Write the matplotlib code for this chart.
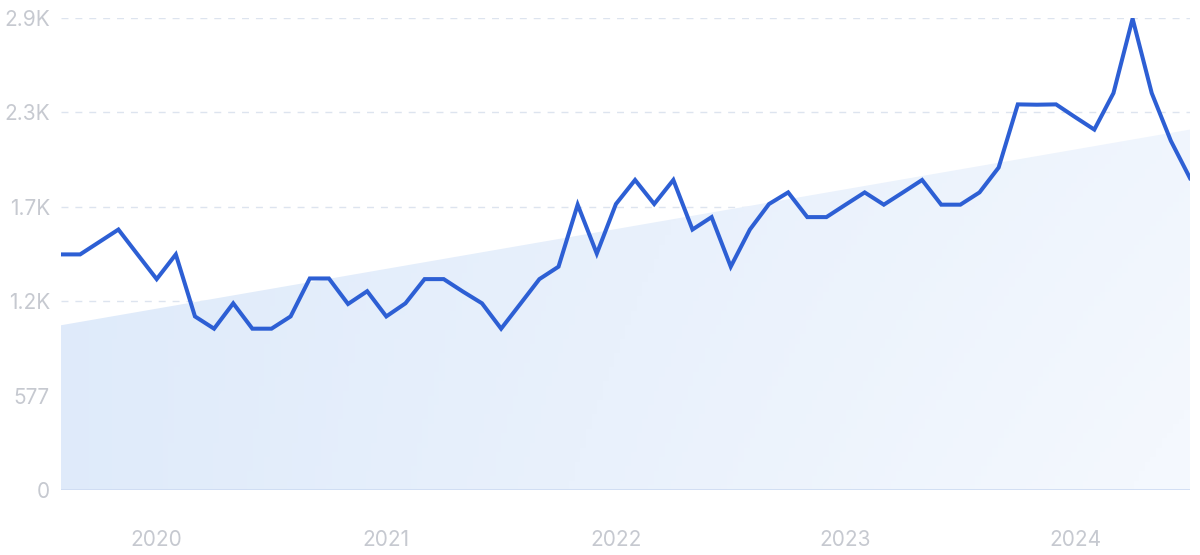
import matplotlib
matplotlib.use("Agg")
import matplotlib.pyplot as plt
import numpy as np
from matplotlib.ticker import FixedLocator, FixedFormatter

plt.rcParams['font.family'] = ['Inter', 'DejaVu Sans']

# Monthly values, Aug 2019 .. Jul 2024
values = [1440, 1440, 1516, 1592, 1440, 1289, 1440, 1061, 986, 1141,
          986, 986, 1061, 1293, 1293, 1137, 1215, 1061, 1141, 1289,
          1289, 1213, 1141, 986, 1137, 1289, 1365, 1744, 1445, 1748,
          1895, 1748, 1895, 1592, 1668, 1365, 1592, 1748, 1819, 1668,
          1668, 1744, 1819, 1744, 1819, 1895, 1744, 1744, 1819, 1971,
          2357, 2355, 2357, 2279, 2203, 2426, 2881, 2426, 2134, 1906]
trend_start, trend_end = 1007, 2203

year_labels = ['2020', '2021', '2022', '2023', '2024']
year_positions = [5, 17, 29, 41, 53]
y_ticks = [0, 577, 1154, 1731, 2308, 2885]
y_tick_labels = ['0', '577', '1.2K', '1.7K', '2.3K', '2.9K']

x = np.arange(len(values))
trend = np.linspace(trend_start, trend_end, len(values))

fig = plt.figure(figsize=(12, 5.55), dpi=100)
ax = fig.add_axes([61/1200, 65/555, 1129/1200, 472/555])
ax.set_xlim(0, len(values) - 1)
ax.set_ylim(0, 2885)

# gradient trend area
poly = ax.fill_between(x, 0, trend, color='none', lw=0)
nx, ny = 200, 100
gx = np.linspace(0, 1, nx)[None, :]
gy = np.linspace(0, 1, ny)[:, None]  # 0 at top, 1 at bottom
t = np.clip(0.7 * gx + 0.3 * gy * gx + 0.05, 0, 1)
c0 = np.array([0xde, 0xea, 0xfa]) / 255
c1 = np.array([0xf4, 0xf8, 0xfe]) / 255
img = c0[None, None, :] * (1 - t[..., None]) + c1[None, None, :] * t[..., None]
im = ax.imshow(img, extent=[0, len(values) - 1, 0, 2885], origin='upper',
               aspect='auto', zorder=1)
path = poly.get_paths()[0]
im.set_clip_path(path, transform=ax.transData)

# grid
for yv in y_ticks[1:]:
    ax.axhline(yv, color='#dde4ef', lw=1, ls=(0, (5, 5)), zorder=0.5)
ax.axhline(0, color='#cddbf2', lw=1.2, zorder=2)

ax.plot(x, values, color='#2d5fd4', lw=2.9, solid_joinstyle='miter', zorder=3)

for s in ax.spines.values():
    s.set_visible(False)
ax.xaxis.set_major_locator(FixedLocator(year_positions))
ax.xaxis.set_major_formatter(FixedFormatter(year_labels))
ax.yaxis.set_major_locator(FixedLocator(y_ticks))
ax.yaxis.set_major_formatter(FixedFormatter(y_tick_labels))
ax.tick_params(axis='x', length=0, pad=29, labelsize=15, labelcolor='#c6c9d0')
ax.tick_params(axis='y', length=0, pad=8, labelsize=15, labelcolor='#c6c9d0')

fig.savefig('out.png', dpi=100, facecolor='white')
